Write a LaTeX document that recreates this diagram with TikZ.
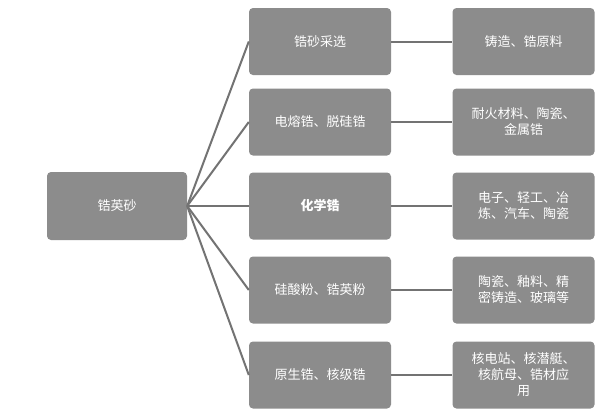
\documentclass[tikz,border=0pt]{standalone}
\usepackage{fontspec}
\newfontfamily\cjk{Noto Sans CJK SC}
\begin{document}
\begin{tikzpicture}[x=1pt,y=-1pt,
 box/.style={fill=black!45,rounded corners=4pt,minimum width=142pt,minimum height=67pt,text=white,font=\cjk\fontsize{13}{16}\selectfont,align=center,inner sep=1pt},
 rbox/.style={box,text width=140pt},
 ln/.style={draw=black!55,line width=2pt}]
\useasboundingbox (0,0) rectangle (600,413);
\fill[white] (0,0) rectangle (600,413);
\node[box,minimum width=140pt,minimum height=68pt] (z) at (117,206) {锆英砂};
\foreach \i/\y/\m/\r in {1/41.5/锆砂采选/铸造、锆原料,2/122/电熔锆、脱硅锆/耐火材料、陶瓷、\\金属锆,3/206/\textbf{化学锆}/电子、轻工、冶\\炼、汽车、陶瓷,4/290/硅酸粉、锆英粉/陶瓷、釉料、精\\密铸造、玻璃等,5/375/原生锆、核级锆/核电站、核潜艇、\\核航母、锆材应\\用}{
 \node[box] (m\i) at (320,\y) {\m};
 \node[box] (r\i) at (523.5,\y) {\r};
 \draw[ln] (m\i.east) -- (r\i.west);
 \draw[ln] (z.east) -- (m\i.west);
}
\end{tikzpicture}
\end{document}
